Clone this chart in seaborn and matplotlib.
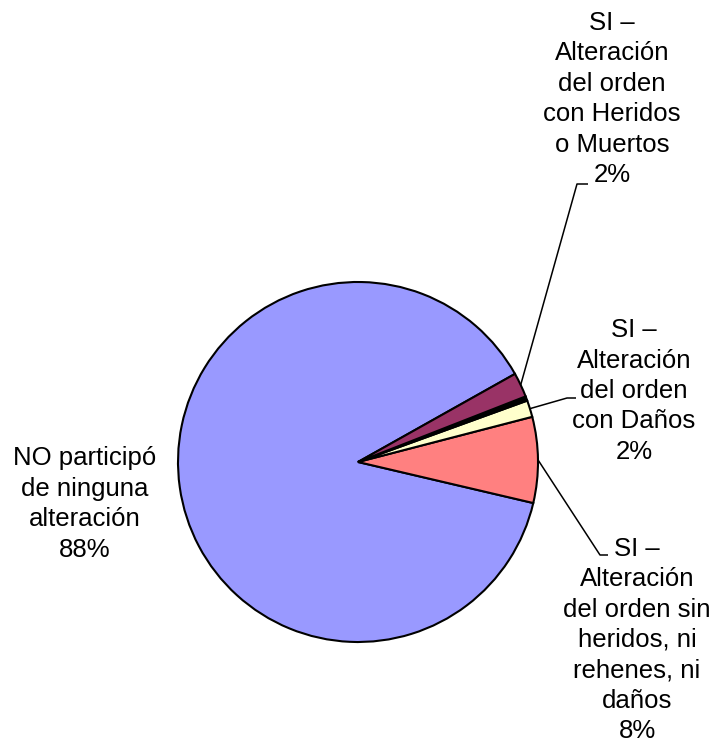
import numpy as np
import seaborn as sns
import matplotlib
matplotlib.use("Agg")
import matplotlib.pyplot as plt

# data (percent of people)
categories = [
    "NO participó\nde ninguna\nalteración",
    "SI –\nAlteración\ndel orden sin\nheridos, ni\nrehenes, ni\ndaños",
    "SI –\nAlteración\ndel orden\ncon Daños",
    "",
    "SI –\nAlteración\ndel orden\ncon Heridos\no Muertos",
]
values = [88.2, 7.7, 1.5, 0.4, 2.2]
pct_labels = ["88%", "8%", "2%", "", "2%"]
colors = ["#9999FF", "#FF8080", "#FFFFCC", "#000000", "#993366"]

sns.set_theme(style="white")
plt.rcParams["font.family"] = ["Liberation Sans", "DejaVu Sans"]

W, H = 726, 747
fig = plt.figure(figsize=(W / 100, H / 100), dpi=100)
ax = fig.add_axes([0, 0, 1, 1])

cx, cy, r = 358, H - 462, 180
wedges, _ = ax.pie(values, colors=colors, startangle=29.3, counterclock=True,
                   center=(cx, cy), radius=r, frame=True,
                   wedgeprops=dict(edgecolor="black", linewidth=1.5))
ax.set_xlim(0, W)
ax.set_ylim(0, H)
ax.set_aspect("equal")
ax.axis("off")

# label layout: text center, then elbow and line end (pixels, y from top)
layout = {
    0: dict(text=(85, 504), leader=None),
    1: dict(text=(637, 640), leader=[(600, 555), (608, 555)]),
    2: dict(text=(634, 391), leader=[(567, 398), (576, 398)]),
    4: dict(text=(612, 99), leader=[(577, 184), (588, 184)]),
}

for i, spec in layout.items():
    txt = categories[i] + "\n" + pct_labels[i]
    tx, ty = spec["text"]
    ax.text(tx, H - ty, txt, ha="center", va="center", multialignment="center",
            fontsize=18.5, linespacing=1.34, color="black")
    if spec["leader"] is not None:
        w = wedges[i]
        mid = np.deg2rad((w.theta1 + w.theta2) / 2)
        xs = [cx + r * np.cos(mid)] + [p[0] for p in spec["leader"]]
        ys = [cy + r * np.sin(mid)] + [H - p[1] for p in spec["leader"]]
        ax.plot(xs, ys, color="black", linewidth=1.1, solid_capstyle="butt")

fig.savefig("out.png", dpi=100)
